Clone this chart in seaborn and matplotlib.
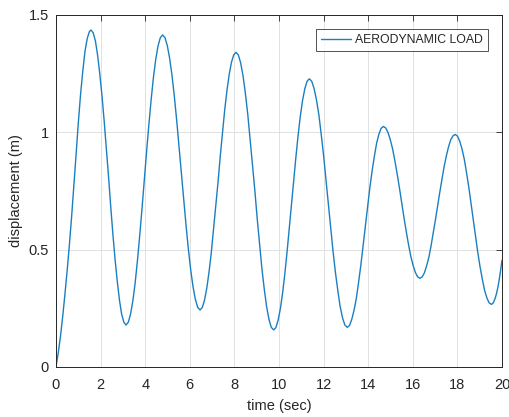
import matplotlib
matplotlib.use("Agg")
import matplotlib.pyplot as plt
import seaborn as sns
import pandas as pd

# time (sec) and displacement (m) (coarse reading)
time_sec = [0.0, 0.2, 0.4, 0.6, 0.8, 1.0, 1.1, 1.2, 1.3, 1.4, 1.5, 1.57,
            1.77, 1.96, 2.16, 2.36, 2.55, 2.75, 2.94, 3.14,
            3.345, 3.55, 3.755, 3.96, 4.165, 4.37, 4.575, 4.78,
            4.99, 5.20, 5.41, 5.62, 5.83, 6.04, 6.25, 6.46,
            6.66, 6.86, 7.06, 7.27, 7.47, 7.67, 7.87, 8.07,
            8.28, 8.49, 8.70, 8.92, 9.13, 9.34, 9.55, 9.76,
            9.96, 10.16, 10.36, 10.56, 10.76, 10.96, 11.16, 11.36,
            11.57, 11.79, 12.00, 12.21, 12.42, 12.64, 12.85, 13.06,
            13.26, 13.47, 13.67, 13.87, 14.07, 14.28, 14.48, 14.68,
            14.885, 15.09, 15.295, 15.50, 15.705, 15.91, 16.115, 16.32,
            16.52, 16.72, 16.91, 17.11, 17.31, 17.51, 17.70, 17.90,
            18.10, 18.31, 18.51, 18.71, 18.91, 19.12, 19.32, 19.52,
            19.64, 19.76, 19.88, 20.0]
displacement_m = [0.0, 0.13, 0.31, 0.52, 0.77, 1.04, 1.16, 1.26, 1.345, 1.40, 1.43, 1.436,
                  1.388, 1.252, 1.048, 0.807, 0.567, 0.363, 0.227, 0.179,
                  0.226, 0.359, 0.561, 0.797, 1.033, 1.235, 1.368, 1.415,
                  1.370, 1.244, 1.053, 0.829, 0.605, 0.414, 0.288, 0.243,
                  0.285, 0.403, 0.582, 0.792, 1.002, 1.181, 1.299, 1.341,
                  1.296, 1.168, 0.975, 0.749, 0.524, 0.331, 0.203, 0.158,
                  0.199, 0.314, 0.489, 0.693, 0.897, 1.072, 1.187, 1.228,
                  1.188, 1.073, 0.901, 0.698, 0.496, 0.324, 0.209, 0.169,
                  0.202, 0.294, 0.434, 0.597, 0.761, 0.900, 0.992, 1.025,
                  1.000, 0.931, 0.825, 0.701, 0.578, 0.472, 0.403, 0.378,
                  0.401, 0.467, 0.567, 0.685, 0.802, 0.902, 0.968, 0.991,
                  0.963, 0.885, 0.767, 0.629, 0.491, 0.373, 0.295, 0.267,
                  0.280, 0.315, 0.375, 0.455]

# additional finer readings between the coarse points
time_sec_fine = [0.1, 0.3, 0.5, 0.7, 0.9,
                 1.668, 1.864, 2.061, 2.257, 2.453, 2.649, 2.846, 3.042,
                 3.2425, 3.4475, 3.6525, 3.8575, 4.0625, 4.2675, 4.4725, 4.6775,
                 4.885, 5.095, 5.305, 5.515, 5.725, 5.935, 6.145, 6.355,
                 6.561, 6.762, 6.963, 7.164, 7.366, 7.567, 7.768, 7.969,
                 8.176, 8.387, 8.598, 8.809, 9.021, 9.232, 9.443, 9.654,
                 9.86, 10.06, 10.26, 10.46, 10.66, 10.86, 11.06, 11.26,
                 11.466, 11.679, 11.891, 12.104, 12.316, 12.529, 12.741, 12.954,
                 13.161, 13.364, 13.566, 13.769, 13.971, 14.174, 14.376, 14.579,
                 14.7825, 14.9875, 15.1925, 15.3975, 15.6025, 15.8075, 16.0125, 16.2175,
                 16.419, 16.616, 16.814, 17.011, 17.209, 17.406, 17.604, 17.801,
                 18.001, 18.204, 18.406, 18.609, 18.811, 19.014, 19.216, 19.419,
                 19.58, 19.70, 19.82, 19.94]
displacement_m_fine = [0.06, 0.215, 0.41, 0.64, 0.905,
                       1.424, 1.330, 1.157, 0.930, 0.685, 0.458, 0.285, 0.191,
                       0.191, 0.283, 0.454, 0.676, 0.918, 1.140, 1.311, 1.403,
                       1.404, 1.316, 1.155, 0.943, 0.715, 0.503, 0.342, 0.254,
                       0.254, 0.336, 0.487, 0.685, 0.899, 1.097, 1.248, 1.330,
                       1.330, 1.241, 1.078, 0.865, 0.634, 0.421, 0.258, 0.169,
                       0.168, 0.248, 0.396, 0.589, 0.797, 0.990, 1.138, 1.218,
                       1.218, 1.139, 0.993, 0.802, 0.595, 0.404, 0.258, 0.179,
                       0.177, 0.241, 0.359, 0.514, 0.680, 0.835, 0.953, 1.017,
                       1.019, 0.970, 0.881, 0.765, 0.638, 0.522, 0.433, 0.384,
                       0.384, 0.430, 0.514, 0.625, 0.744, 0.855, 0.939, 0.985,
                       0.984, 0.930, 0.830, 0.700, 0.558, 0.428, 0.328, 0.274,
                       0.270, 0.295, 0.342, 0.413]
series_name = "AERODYNAMIC LOAD"
x_ticks = [0, 2, 4, 6, 8, 10, 12, 14, 16, 18, 20]
y_ticks = [0, 0.5, 1, 1.5]
y_tick_labels = ["0", "0.5", "1", "1.5"]

sns.set_theme(style="white")
plt.rcParams['font.family'] = ['Liberation Sans', 'DejaVu Sans']

df = pd.DataFrame({"t": time_sec + time_sec_fine,
                   "d": displacement_m + displacement_m_fine})
df["s"] = series_name
df = df.sort_values("t")

fig = plt.figure(figsize=(5.09, 4.17), dpi=100)
fig.patch.set_facecolor("white")
ax = fig.add_axes([56 / 509, 1 - 367 / 417, (502 - 56) / 509, (367 - 15) / 417])

sns.lineplot(data=df, x="t", y="d", hue="s", palette=["#1a7fc0"], linewidth=1.0,
             ax=ax, sort=True, estimator=None)

ax.set_xlim(0, 20)
ax.set_ylim(0, 1.5)
ax.set_xticks(x_ticks)
ax.set_yticks(y_ticks)
ax.set_yticklabels(y_tick_labels)
dark = "#262626"
ax.tick_params(axis="both", which="both", direction="in", length=4, width=0.6,
               colors=dark, labelsize=10.5, top=True, right=True)
ax.tick_params(axis="x", pad=8)
ax.tick_params(axis="y", pad=5)
for s in ax.spines.values():
    s.set_color(dark)
    s.set_linewidth(0.7)
ax.grid(True, color="#dcdcdc", linewidth=0.6)
ax.set_axisbelow(True)
ax.set_xlabel("time (sec)", fontsize=10.5, color=dark, labelpad=5)
ax.set_ylabel("displacement (m)", fontsize=10.5, color=dark, labelpad=4)

leg = ax.legend(loc="upper right", fontsize=8.8, frameon=True, fancybox=False,
                edgecolor=dark, handlelength=2.5, borderpad=0.4, borderaxespad=0,
                bbox_to_anchor=(0.969, 0.96), handletextpad=0.35)
leg.get_frame().set_linewidth(0.7)
for txt in leg.get_texts():
    txt.set_color(dark)

fig.savefig("out.png", dpi=100, facecolor="white")
